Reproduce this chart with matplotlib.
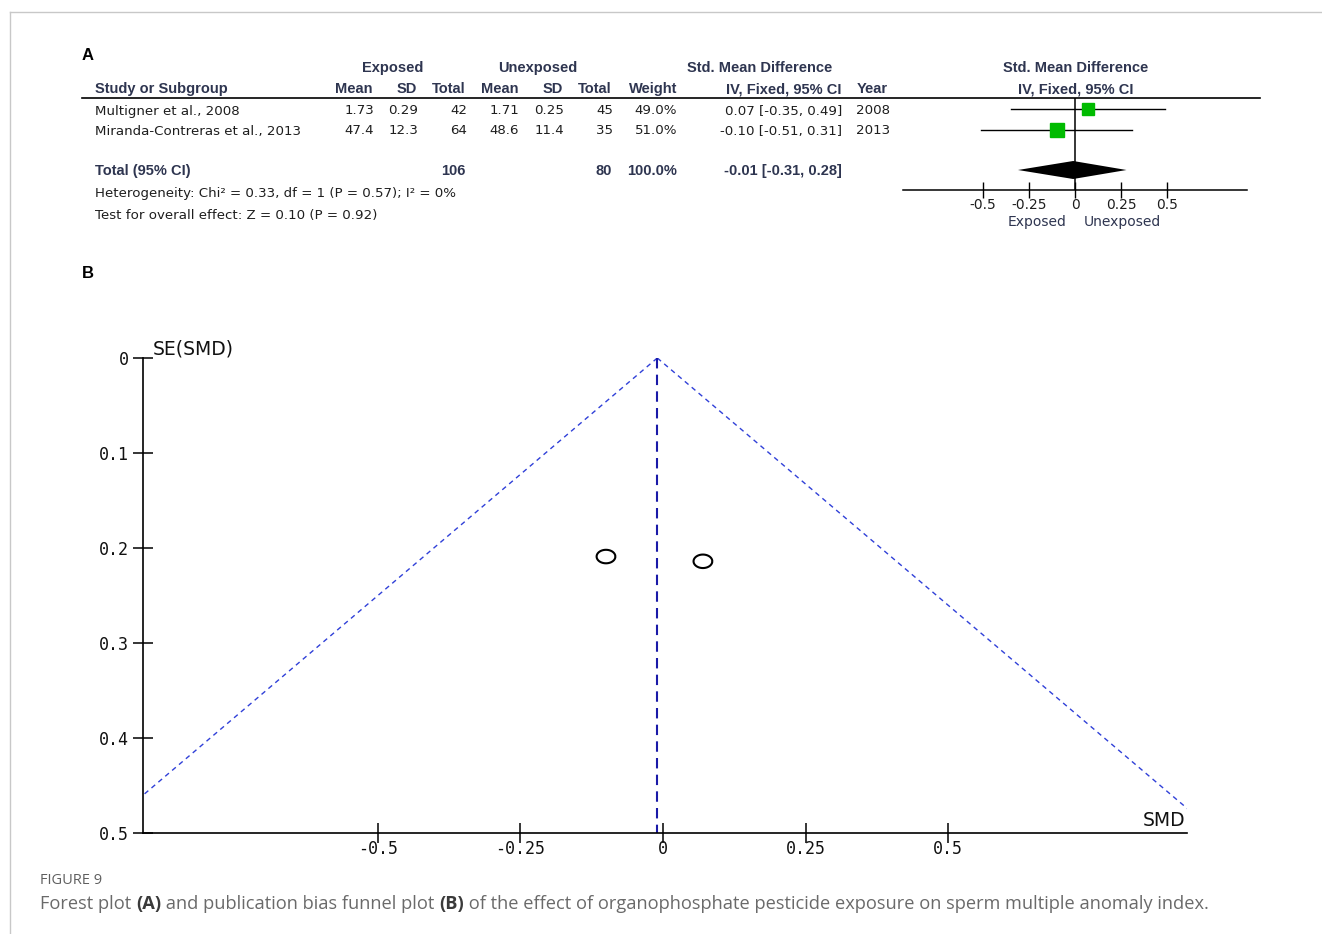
#!/usr/bin/env python3
import numpy as np
import matplotlib
matplotlib.use("Agg")
import matplotlib.pyplot as plt
from matplotlib.lines import Line2D
from matplotlib.path import Path

plt.rcParams["axes.unicode_minus"] = False

# study level data
studies = ["Multigner et al., 2008", "Miranda-Contreras et al., 2013"]
exp_mean = ["1.73", "47.4"]
exp_sd = ["0.29", "12.3"]
exp_n = [42, 64]
unexp_mean = ["1.71", "48.6"]
unexp_sd = ["0.25", "11.4"]
unexp_n = [45, 35]
weights = [49.0, 51.0]
smd = [0.07, -0.10]
ci_lo = [-0.35, -0.51]
ci_hi = [0.49, 0.31]
years = [2008, 2013]
se_smd = [0.214, 0.209]

# pooled estimate
total_exp_n = 106
total_unexp_n = 80
total_weight = 100.0
pooled = -0.01
pooled_lo = -0.31
pooled_hi = 0.28

heterogeneity = "Heterogeneity: Chi² = 0.33, df = 1 (P = 0.57); I² = 0%"
overall = "Test for overall effect: Z = 0.10 (P = 0.92)"

forest_ticks = [-0.5, -0.25, 0, 0.25, 0.5]
forest_ticklabels = ["-0.5", "-0.25", "0", "0.25", "0.5"]
funnel_xticks = [-0.5, -0.25, 0, 0.25, 0.5]
funnel_xticklabels = ["-0.5", "-0.25", "0", "0.25", "0.5"]
funnel_yticks = [0, 0.1, 0.2, 0.3, 0.4, 0.5]
funnel_yticklabels = ["0", "0.1", "0.2", "0.3", "0.4", "0.5"]

W, H = 1322, 934
HEAD = "#2e3550"
BODY = "#1e1e1e"
TFONT = "DejaVu Sans"
HFONT = "Liberation Sans"
MONO = "DejaVu Sans Mono"


def fx(x):
    return x / W


def fy(y):
    return 1 - y / H


def box(x0, y0, x1, y1):
    return [fx(x0), fy(y1), (x1 - x0) / W, (y1 - y0) / H]


fig = plt.figure(figsize=(W / 100, H / 100), dpi=100)

# frame lines
fig.add_artist(Line2D([fx(10), 1], [fy(12), fy(12)], color="#c8c8c8", lw=1))
fig.add_artist(Line2D([fx(10), fx(10)], [fy(12), 0], color="#c8c8c8", lw=1))

fig.text(fx(82), fy(55), "A", fontsize=12, fontweight="bold", family=HFONT, va="center")
fig.text(fx(82), fy(273), "B", fontsize=12, fontweight="bold", family=HFONT, va="center")


def hdr(x, y, s, ha):
    fig.text(fx(x), fy(y), s, ha=ha, va="center", fontsize=10.5,
             fontweight="bold", family=HFONT, color=HEAD)


def cell(x, y, s, ha="right", bold=False):
    fig.text(fx(x), fy(y), s, ha=ha, va="center",
             fontsize=10.5 if bold else 9.6,
             family=HFONT if bold else TFONT,
             fontweight="bold" if bold else "normal",
             color=HEAD if bold else BODY)


# table header
hdr(393, 68, "Exposed", "center")
hdr(538, 68, "Unexposed", "center")
hdr(760, 68, "Std. Mean Difference", "center")
hdr(1076, 68, "Std. Mean Difference", "center")
hdr(95, 89, "Study or Subgroup", "left")
for x, s in [(373, "Mean"), (417, "SD"), (466, "Total"), (519, "Mean"),
             (563, "SD"), (612, "Total"), (677, "Weight"), (842, "IV, Fixed, 95% CI")]:
    hdr(x, 89, s, "right")
hdr(857, 89, "Year", "left")
hdr(1076, 89, "IV, Fixed, 95% CI", "center")
fig.add_artist(Line2D([fx(82), fx(1260)], [fy(98), fy(98)], color="black", lw=1.2))

row_y = [111, 131]
for i, y in enumerate(row_y):
    cell(95, y, studies[i], ha="left")
    cell(374, y, exp_mean[i])
    cell(418, y, exp_sd[i])
    cell(467, y, str(exp_n[i]))
    cell(519, y, unexp_mean[i])
    cell(564, y, unexp_sd[i])
    cell(613, y, str(unexp_n[i]))
    cell(677, y, f"{weights[i]:.1f}%")
    cell(842, y, f"{smd[i]:.2f} [{ci_lo[i]:.2f}, {ci_hi[i]:.2f}]")
    cell(856, y, str(years[i]), ha="left")

cell(95, 171, "Total (95% CI)", ha="left", bold=True)
cell(466, 171, str(total_exp_n), bold=True)
cell(612, 171, str(total_unexp_n), bold=True)
cell(677, 171, f"{total_weight:.1f}%", bold=True)
cell(842, 171, f"{pooled:.2f} [{pooled_lo:.2f}, {pooled_hi:.2f}]", bold=True)
cell(95, 194, heterogeneity, ha="left")
cell(95, 215, overall, ha="left")

# forest plot: y runs in pixel rows, x in SMD units
axf = fig.add_axes(box(903, 98, 1247, 190))
axf.set_xlim(-0.935, 0.935)
axf.set_ylim(190, 98)
for side in ["top", "right", "left"]:
    axf.spines[side].set_visible(False)
axf.spines["bottom"].set_linewidth(1.1)
axf.set_yticks([])
axf.set_xticks(forest_ticks)
axf.set_xticklabels(forest_ticklabels, family=TFONT, fontsize=10, color=BODY)
axf.tick_params(axis="x", direction="inout", length=12, width=1, pad=0)
axf.axvline(0, color="black", lw=1.1)
mark_y = [109, 130]
for i, y in enumerate(mark_y):
    axf.plot([ci_lo[i], ci_hi[i]], [y, y], color="black", lw=1)
    axf.plot(smd[i], y, marker="s", ms=9.3 * np.sqrt(weights[i] / 50),
             color="#00bb00", mec="#00bb00", ls="none")
dy = 9
axf.fill([pooled_lo, pooled, pooled_hi, pooled],
         [170, 170 - dy, 170, 170 + dy], color="black", lw=0)
fig.text(fx(1037), fy(222), "Exposed", ha="center", va="center",
         family=TFONT, fontsize=10, color=HEAD)
fig.text(fx(1122), fy(222), "Unexposed", ha="center", va="center",
         family=TFONT, fontsize=10, color=HEAD)

# funnel plot
axp = fig.add_axes(box(143, 358, 1187, 833))
axp.set_xlim(-0.912, 0.919)
axp.set_ylim(0.5, 0)
for side in ["top", "right"]:
    axp.spines[side].set_visible(False)
for side in ["left", "bottom"]:
    axp.spines[side].set_linewidth(1.2)
axp.set_xticks(funnel_xticks)
axp.set_xticklabels(funnel_xticklabels, family=MONO)
axp.set_yticks(funnel_yticks)
axp.set_yticklabels(funnel_yticklabels, family=MONO)
axp.tick_params(direction="inout", length=14, width=1.1, labelsize=12,
                labelcolor="#111111")
axp.tick_params(axis="x", pad=-2)
axp.tick_params(axis="y", pad=3)

se_line = np.linspace(0, 0.5, 200)
axp.plot(pooled - 1.96 * se_line, se_line, color="#3040d8", lw=1.0,
         dashes=(3.5, 3), clip_on=True)
axp.plot(pooled + 1.96 * se_line, se_line, color="#3040d8", lw=1.0,
         dashes=(3.5, 3), clip_on=True)
axp.plot([pooled, pooled], [0, 0.5], color="#1a1aa8", lw=1.5, dashes=(5, 3))

t = np.linspace(0, 2 * np.pi, 60)
ellipse = Path(np.column_stack([np.cos(t), 0.72 * np.sin(t)]))
axp.scatter(smd, se_smd, marker=ellipse, s=13.5 ** 2, facecolors="none",
            edgecolors="black", linewidths=1.5, zorder=3)

fig.text(fx(153), fy(349), "SE(SMD)", ha="left", va="center",
         family=TFONT, fontsize=13.5, color="#111111")
fig.text(fx(1185), fy(820), "SMD", ha="right", va="center",
         family=TFONT, fontsize=13.5, color="#111111")

# caption
fig.text(fx(40), fy(881), "FIGURE 9", ha="left", va="center",
         family="Open Sans", fontsize=10.5, color="#5f5f5f")
parts = [("Forest plot ", False), ("(A)", True),
         (" and publication bias funnel plot ", False), ("(B)", True),
         (" of the effect of organophosphate pesticide exposure on sperm multiple anomaly index.", False)]
renderer = fig.canvas.get_renderer()
x = fx(40)
for s, bold in parts:
    txt = fig.text(x, fy(904), s, ha="left", va="center", family="Open Sans",
                   fontsize=13.15, fontweight="bold" if bold else "normal",
                   color="#3a3a3a" if bold else "#6a6a6a")
    x += txt.get_window_extent(renderer).width / W

fig.savefig("out.png", dpi=100)
